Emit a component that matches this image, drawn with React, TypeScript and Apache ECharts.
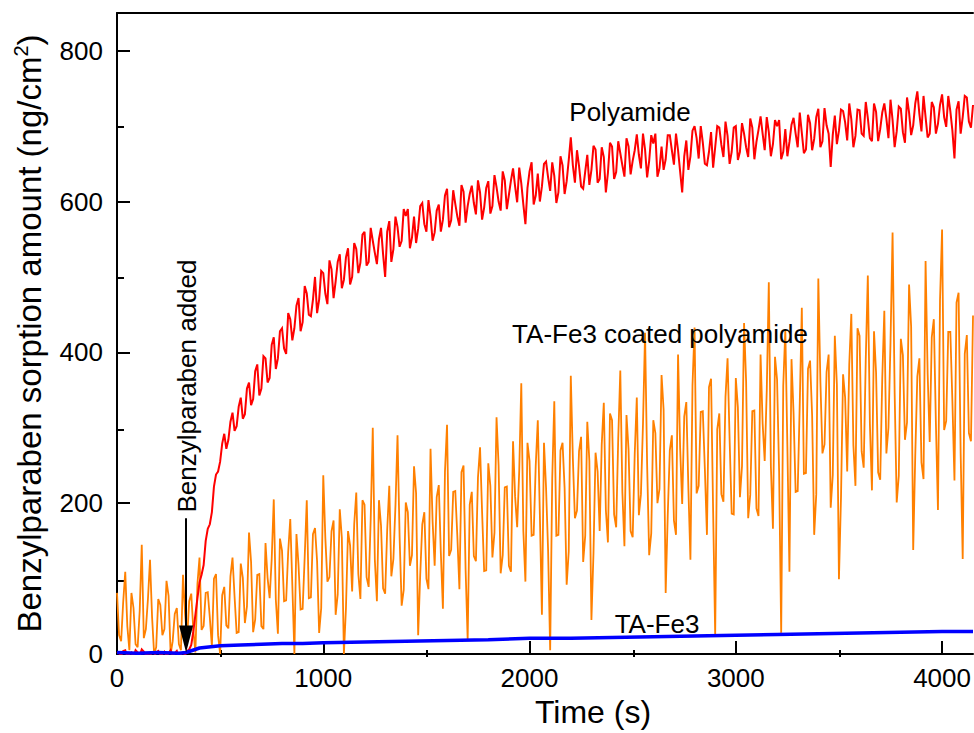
import React, { useEffect, useRef } from "react";
import * as echarts from "echarts";

// Sampling interval (s) of the two noisy traces
const STEP = 10;

// Polyamide (red), one value every STEP seconds from 0 s to 4150 s
const polyamide = [
  3, 1, -2, 4, 5, -3, 0, 2, -4, 5, 2, -2, 6, 3, -1, 0, 1, -4, -3, 2,
  4, -1, 0, 3, -2, 1, 5, -2, 1, 4, -3, 0, 2, -1, 4, 6, 12, 30, 52, 74,
  95, 105, 118, 150, 166, 172, 188, 222, 238, 242, 255, 279, 292, 272, 284, 308, 320, 296, 302, 328,
  340, 312, 318, 352, 360, 330, 338, 375, 384, 343, 352, 395, 392, 360, 366, 410, 420, 378, 392, 428,
  432, 405, 398, 452, 444, 416, 432, 462, 472, 428, 440, 488, 478, 450, 448, 470, 500, 452, 470, 508,
  505, 478, 464, 522, 510, 472, 494, 520, 530, 485, 496, 526, 538, 490, 500, 545, 537, 505, 519, 556,
  560, 515, 520, 565, 548, 532, 517, 550, 565, 530, 500, 560, 574, 520, 537, 580, 566, 540, 548, 590,
  581, 590, 538, 552, 580, 545, 564, 594, 598, 570, 560, 602, 580, 548, 559, 588, 596, 560, 576, 608,
  617, 566, 575, 615, 597, 580, 568, 622, 613, 572, 594, 610, 621, 598, 583, 628, 612, 576, 592, 618,
  627, 584, 594, 635, 619, 600, 588, 640, 628, 590, 609, 628, 644, 620, 599, 645, 624, 596, 570, 618,
  640, 652, 596, 608, 637, 600, 620, 650, 653, 632, 614, 652, 634, 598, 612, 660, 648, 610, 627, 655,
  685, 648, 625, 668, 647, 620, 617, 640, 662, 622, 642, 674, 669, 625, 630, 672, 659, 612, 638, 678,
  673, 630, 639, 680, 664, 648, 633, 684, 673, 636, 654, 668, 689, 662, 644, 690, 669, 632, 654, 688,
  677, 690, 633, 644, 673, 642, 656, 688, 688, 668, 649, 690, 668, 640, 612, 660, 681, 642, 660, 694,
  700, 684, 657, 700, 678, 650, 648, 666, 692, 645, 672, 700, 698, 675, 659, 706, 687, 650, 666, 698,
  700, 655, 666, 704, 690, 672, 659, 710, 698, 656, 679, 695, 713, 690, 668, 712, 692, 660, 676, 708,
  700, 708, 656, 666, 696, 660, 679, 702, 711, 690, 672, 718, 691, 664, 669, 715, 704, 668, 683, 712,
  723, 672, 680, 724, 701, 690, 646, 688, 714, 676, 694, 722, 720, 705, 681, 730, 709, 672, 687, 722,
  721, 690, 687, 732, 711, 684, 680, 730, 719, 680, 696, 718, 730, 710, 684, 735, 708, 672, 693, 726,
  723, 692, 678, 738, 718, 688, 701, 730, 746, 716, 693, 740, 712, 685, 690, 732, 725, 690, 703, 728,
  742, 712, 699, 740, 720, 694, 657, 722, 733, 690, 712, 740, 738, 706, 698, 728,
];

// TA-Fe3 coated polyamide (orange), one value every STEP seconds from 0 s to 4150 s
const coatedPolyamide = [
  81, 25, 17, 69, 109, 37, 5, 81, 61, 13, 9, 57, 145, 21, 33, 73, 125, 49, 0, 9,
  73, 65, 25, 33, 97, 77, 0, 17, 53, 61, 13, 5, 105, 53, 21, 70, 80, 32, 2, 93,
  128, 32, 37, 81, 82, 48, 10, 100, 106, 25, 0, 78, 89, 38, 34, 103, 128, 76, 28, 29,
  120, 101, 41, 63, 161, 122, 29, 46, 105, 106, 37, 33, 147, 101, 74, 126, 205, 72, 27, 153,
  137, 70, 71, 136, 179, 91, 0, 159, 118, 59, 60, 129, 204, 74, 75, 159, 167, 123, 28, 61,
  237, 154, 96, 102, 163, 177, 52, 79, 192, 154, 0, 61, 163, 144, 83, 172, 214, 106, 73, 204,
  198, 102, 89, 179, 300, 125, 70, 204, 170, 87, 80, 165, 223, 103, 126, 197, 290, 156, 64, 85,
  201, 188, 117, 131, 249, 213, 25, 105, 172, 188, 100, 86, 272, 176, 117, 208, 224, 134, 60, 242,
  304, 130, 138, 215, 216, 156, 86, 241, 250, 112, 19, 198, 215, 130, 123, 234, 274, 188, 110, 111,
  253, 223, 128, 161, 314, 250, 107, 131, 221, 222, 117, 109, 282, 209, 168, 243, 359, 163, 96, 280,
  256, 157, 158, 250, 310, 185, 52, 280, 221, 137, 5, 233, 335, 157, 158, 270, 280, 220, 92, 136,
  369, 259, 180, 190, 269, 288, 122, 157, 308, 256, 45, 134, 267, 242, 163, 278, 333, 191, 148, 319,
  310, 185, 168, 286, 376, 215, 143, 317, 271, 163, 155, 266, 340, 184, 212, 305, 426, 252, 131, 160,
  310, 293, 200, 219, 370, 324, 81, 184, 270, 290, 177, 158, 397, 274, 199, 315, 334, 220, 125, 356,
  433, 213, 223, 321, 322, 245, 158, 354, 365, 190, 25, 298, 319, 212, 202, 341, 392, 284, 186, 185,
  366, 327, 208, 249, 439, 361, 180, 211, 322, 323, 193, 183, 397, 306, 256, 349, 493, 249, 166, 394,
  364, 241, 28, 356, 430, 275, 109, 391, 319, 215, 216, 332, 459, 239, 240, 378, 389, 316, 158, 212,
  498, 362, 266, 278, 374, 397, 194, 237, 422, 357, 99, 208, 371, 340, 242, 384, 451, 277, 223, 432,
  422, 269, 247, 391, 502, 305, 217, 428, 373, 241, 231, 366, 455, 266, 300, 413, 559, 347, 201, 236,
  418, 396, 284, 307, 490, 434, 138, 264, 368, 392, 254, 232, 521, 372, 281, 420, 444, 306, 191, 469,
  563, 297, 309, 427, 427, 335, 230, 466, 479, 267, 126, 398, 423, 293, 282, 449,
];

// TA-Fe3 (blue)
const taFe3Time = [0, 100, 200, 300, 335, 400, 500, 600, 700, 800, 900, 1000, 1200, 1400, 1600, 1800, 2000, 2200, 2400, 2600, 2800, 3000, 3200, 3400, 3600, 3800, 4000, 4150];
const taFe3 = [2, 1, 2, 1, 2, 8, 11, 12, 13, 14, 14, 15, 16, 17, 18, 19, 21, 21, 22, 23, 24, 25, 26, 27, 28, 29, 30, 30];

// Axis ticks
const xMajorTicks = [0, 1000, 2000, 3000, 4000];
const xMinorTicks = [500, 1500, 2500, 3500];
const yMajorTicks = [0, 200, 400, 600, 800];
const yMinorTicks = [100, 300, 500, 700];
const X_MAX = 4150;
const Y_MAX = 850;

// "Benzylparaben added" arrow (time, top of shaft, centre of head)
const ARROW_TIME = 335;
const ARROW_TOP = 180;
const ARROW_HEAD = 20;

const FONT = "'Liberation Sans', Arial, sans-serif";

const GRID = { left: 117, right: 0, top: 13, bottom: 76 };
const AXIS_COLOR = "#000";

function buildOption() {
  const pairs = (arr: number[]) => arr.map((v, i) => [i * STEP, v]);
  const blue = taFe3.map((v, i) => [taFe3Time[i], v]);
  const textStyle = (size: number) => ({ fontSize: size, fontFamily: FONT, color: "#000" });
  const plain = (v: number) => String(v);

  return {
    animation: false,
    backgroundColor: "#fff",
    grid: [
      { ...GRID, containLabel: false },
      { ...GRID, containLabel: false },
    ],
    xAxis: [
      {
        type: "value",
        gridIndex: 0,
        position: "bottom",
        min: 0,
        max: X_MAX,
        axisLine: { show: true, onZero: false, lineStyle: { color: AXIS_COLOR, width: 2 } },
        axisTick: { show: true, inside: true, length: 13, lineStyle: { color: AXIS_COLOR, width: 2 }, customValues: xMajorTicks },
        axisLabel: { show: true, customValues: xMajorTicks, margin: 11, formatter: plain, ...textStyle(26) },
        splitLine: { show: false },
        name: "Time (s)",
        nameLocation: "middle",
        nameGap: 42,
        nameTextStyle: { ...textStyle(32), padding: [0, 0, 0, 96] },
      },
      {
        type: "value",
        gridIndex: 0,
        position: "top",
        min: 0,
        max: X_MAX,
        axisLine: { show: true, onZero: false, lineStyle: { color: AXIS_COLOR, width: 2 } },
        axisTick: { show: false },
        axisLabel: { show: false },
        splitLine: { show: false },
      },
      {
        type: "value",
        gridIndex: 1,
        position: "bottom",
        min: 0,
        max: X_MAX,
        axisLine: { show: false },
        axisTick: { show: true, inside: true, length: 7, lineStyle: { color: AXIS_COLOR, width: 2 }, customValues: xMinorTicks },
        axisLabel: { show: false },
        splitLine: { show: false },
      },
    ],
    yAxis: [
      {
        type: "value",
        gridIndex: 0,
        position: "left",
        min: 0,
        max: Y_MAX,
        axisLine: { show: true, onZero: false, lineStyle: { color: AXIS_COLOR, width: 2 } },
        axisTick: { show: true, inside: true, length: 13, lineStyle: { color: AXIS_COLOR, width: 2 }, customValues: yMajorTicks },
        axisLabel: { show: true, customValues: yMajorTicks, margin: 14, formatter: plain, ...textStyle(26) },
        splitLine: { show: false },
        name: "Benzylparaben sorption amount (ng/cm{sup|2})",
        nameLocation: "middle",
        nameRotate: 90,
        nameGap: 64,
        nameTextStyle: {
          ...textStyle(33),
          lineHeight: 38,
          rich: {
            sup: { fontSize: 20, fontFamily: FONT, color: "#000", verticalAlign: "top", lineHeight: 38, padding: [0, 0, 14, 0] },
          },
        },
      },
      {
        type: "value",
        gridIndex: 1,
        position: "left",
        min: 0,
        max: Y_MAX,
        axisLine: { show: false },
        axisTick: { show: true, inside: true, length: 7, lineStyle: { color: AXIS_COLOR, width: 2 }, customValues: yMinorTicks },
        axisLabel: { show: false },
        splitLine: { show: false },
      },
    ],
    series: [
      {
        name: "TA-Fe3 coated polyamide",
        type: "line",
        xAxisIndex: 0,
        yAxisIndex: 0,
        data: pairs(coatedPolyamide),
        showSymbol: false,
        symbol: "none",
        clip: true,
        lineStyle: { color: "#FF8000", width: 1.8, join: "miter", miterLimit: 3 },
        itemStyle: { color: "#FF8000" },
        z: 2,
      },
      {
        name: "Polyamide",
        type: "line",
        xAxisIndex: 0,
        yAxisIndex: 0,
        data: pairs(polyamide),
        showSymbol: false,
        symbol: "none",
        clip: true,
        lineStyle: { color: "#FF0000", width: 2, join: "miter", miterLimit: 3 },
        itemStyle: { color: "#FF0000" },
        z: 3,
      },
      {
        name: "TA-Fe3",
        type: "line",
        xAxisIndex: 0,
        yAxisIndex: 0,
        data: blue,
        showSymbol: false,
        symbol: "none",
        clip: true,
        lineStyle: { color: "#0000FF", width: 3.5 },
        itemStyle: { color: "#0000FF" },
        z: 4,
        markLine: {
          silent: true,
          symbol: ["none", "triangle"],
          symbolSize: [14, 27],
          label: { show: false },
          lineStyle: { color: "#000", width: 2, type: "solid" },
          emphasis: { disabled: true },
          data: [[{ coord: [ARROW_TIME, ARROW_TOP] }, { coord: [ARROW_TIME, ARROW_HEAD] }]],
          itemStyle: { color: "#000" },
        },
      },
    ],
    graphic: [
      {
        type: "text",
        x: 630,
        y: 112,
        z: 100,
        style: { text: "Polyamide", font: `26px ${FONT}`, fill: "#000", align: "center", verticalAlign: "middle", textAlign: "center", textVerticalAlign: "middle" },
      },
      {
        type: "text",
        x: 660,
        y: 334,
        z: 100,
        style: { text: "TA-Fe3 coated polyamide", font: `26px ${FONT}`, fill: "#000", align: "center", verticalAlign: "middle", textAlign: "center", textVerticalAlign: "middle" },
      },
      {
        type: "text",
        x: 657,
        y: 624,
        z: 100,
        style: { text: "TA-Fe3", font: `26px ${FONT}`, fill: "#000", align: "center", verticalAlign: "middle", textAlign: "center", textVerticalAlign: "middle" },
      },
      {
        type: "text",
        x: 187,
        y: 386,
        rotation: Math.PI / 2,
        z: 100,
        style: { text: "Benzylparaben added", font: `26px ${FONT}`, fill: "#000", align: "center", verticalAlign: "middle", textAlign: "center", textVerticalAlign: "middle" },
      },
    ],
  };
}

export default function App() {
  const ref = useRef<HTMLDivElement>(null);
  useEffect(() => {
    if (!ref.current) return;
    const chart = echarts.init(ref.current, null, { renderer: "svg" });
    chart.setOption(buildOption() as any);
    return () => chart.dispose();
  }, []);
  return (
    <div
      ref={ref}
      style={{ position: "fixed", left: 0, top: 0, width: 974, height: 733, background: "#fff" }}
    />
  );
}
